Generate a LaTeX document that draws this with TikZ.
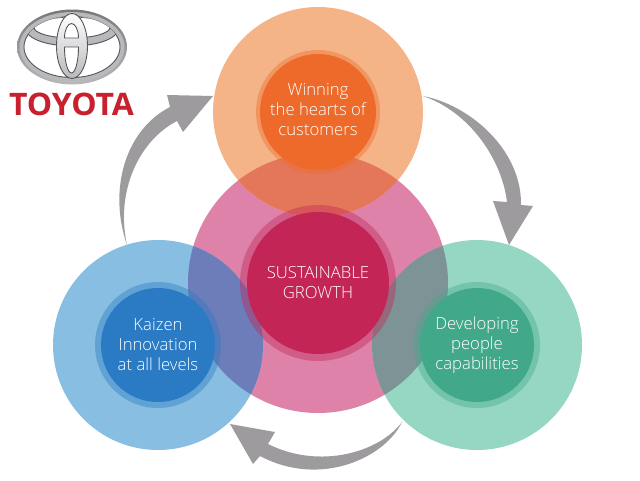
\documentclass[tikz,border=0pt]{standalone}
\usepackage{fontspec}
\setmainfont{Open Sans}[UprightFont=* Light]
\newfontfamily\brandfont{Open Sans}
\usetikzlibrary{positioning}

\definecolor{ringorange}{RGB}{244,180,135}
\definecolor{coreorange}{RGB}{238,106,42}
\definecolor{ringpink}{RGB}{222,130,170}
\definecolor{corepink}{RGB}{194,37,86}
\definecolor{ringblue}{RGB}{135,190,225}
\definecolor{coreblue}{RGB}{42,122,196}
\definecolor{ringgreen}{RGB}{150,215,195}
\definecolor{coregreen}{RGB}{66,168,138}
\definecolor{mixorange}{RGB}{228,118,90}
\definecolor{mixblue}{RGB}{108,125,185}
\definecolor{mixgreen}{RGB}{125,147,150}
\definecolor{arrowgray}{RGB}{158,155,158}
\definecolor{toyotared}{RGB}{200,32,46}
\definecolor{chrome}{RGB}{185,185,188}
\definecolor{chromedark}{RGB}{85,85,90}

\tikzset{
    disc/.style={circle,inner sep=0pt},
    halo/.style={circle,inner sep=0pt,fill opacity=0.4},
    corelabel/.style={circle,inner sep=0pt,align=center,text=white,font=\fontsize{16.7}{20}\selectfont},
    cyclearrow/.style={fill=arrowgray},
    logoline/.style={draw=chromedark,line width=0.9pt},
}

\begin{document}
\begin{tikzpicture}[x=1pt,y=-1pt]
    \useasboundingbox (0,0) rectangle (640,480);

    % Big discs
    \node[disc,minimum size=260pt,fill=ringpink] (growthdisc) at (318,283) {};
    \node[disc,minimum size=210pt,fill=ringorange] (customerdisc) at (318,112) {};
    \node[disc,minimum size=210pt,fill=ringblue] (kaizendisc) at (158,345) {};
    \node[disc,minimum size=210pt,fill=ringgreen] (peopledisc) at (477,345) {};

    % Overlaps with the middle disc
    \begin{scope}
        \clip (318,283) circle [radius=130];
        \fill[mixorange] (318,112) circle [radius=105];
        \fill[mixblue] (158,345) circle [radius=105];
        \fill[mixgreen] (477,345) circle [radius=105];
    \end{scope}

    % Inner halos
    \node[halo,minimum size=156pt,fill=corepink] (growthhalo) at (growthdisc) {};
    \node[halo,minimum size=124pt,fill=coreorange] (customerhalo) at (customerdisc) {};
    \node[halo,minimum size=126pt,fill=coreblue] (kaizenhalo) at (kaizendisc) {};
    \node[halo,minimum size=126pt,fill=coregreen] (peoplehalo) at (peopledisc) {};

    % Cores with labels
    \node[corelabel,minimum size=142pt,fill=corepink] (growth) at (growthdisc) {SUSTAINABLE\\GROWTH};
    \node[corelabel,minimum size=116pt,fill=coreorange] (customers) at (customerdisc) {};
    \node[corelabel,minimum size=114pt,fill=coreblue] (kaizen) at (kaizendisc) {Kaizen\\Innovation\\at all levels};
    \node[corelabel,minimum size=114pt,fill=coregreen] (people) at (peopledisc) {Developing\\people\\capabilities};
    \node[corelabel] (customertext) at (318,110) {Winning\\the hearts of\\customers};

    % Cycle arrows
    \fill[cyclearrow] (423,96) .. controls (470,105) and (522,150) .. (521,205)
        -- (533,206) -- (509,245) -- (493,201) -- (507,202)
        .. controls (502,160) and (470,112) .. (423,96) -- cycle;
    \fill[cyclearrow] (402,422) .. controls (385,458) and (320,488) .. (260,456)
        -- (253,464) -- (230,424) -- (275,432) -- (268,444)
        .. controls (320,470) and (380,452) .. (402,422) -- cycle;
    \fill[cyclearrow] (127,245) .. controls (108,190) and (125,130) .. (170,107)
        -- (167,95) -- (213,96) -- (183,132) -- (177,121)
        .. controls (140,140) and (115,190) .. (127,245) -- cycle;

    % Logo
    \shade[top color=chromedark!80,bottom color=chrome] (72,47) ellipse [x radius=55,y radius=37.5];
    \fill[chrome] (72,47) ellipse [x radius=52.5,y radius=35];
    \filldraw[fill=white,logoline] (72,47) ellipse [x radius=48,y radius=30.5];
    \begin{scope}
        \clip (72,47) ellipse [x radius=48,y radius=30.5];
        \filldraw[fill=chrome,logoline] (72,29) ellipse [x radius=46,y radius=17];
        \filldraw[fill=white,logoline] (72,27.5) ellipse [x radius=38,y radius=10.5];
    \end{scope}
    \shade[top color=white,bottom color=chrome,draw=chromedark,line width=0.9pt] (72,46) ellipse [x radius=15.5,y radius=32.5];
    \filldraw[fill=white,logoline] (64.5,38) arc [start angle=180,end angle=360,x radius=7,y radius=14.5] -- cycle;
    \filldraw[fill=white,logoline] (64.5,47) arc [start angle=180,end angle=0,x radius=7,y radius=26] -- cycle;
    \node[font=\brandfont\bfseries\fontsize{31}{31}\selectfont,text=toyotared,inner sep=0pt,xscale=1.03] (brand) at (71.5,104) {TOYOTA};
\end{tikzpicture}
\end{document}
